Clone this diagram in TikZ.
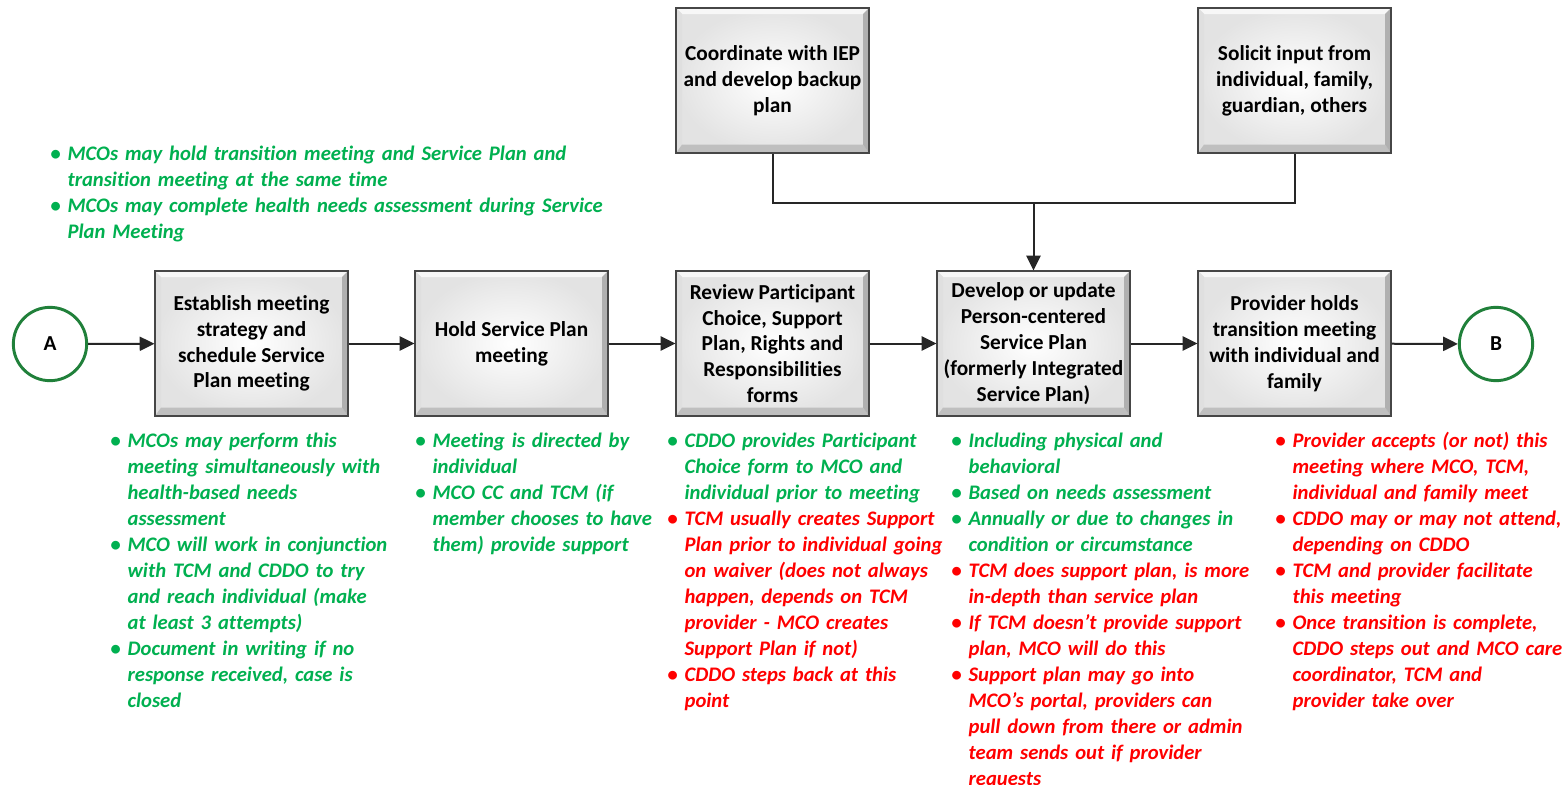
\documentclass[tikz,border=0pt]{standalone}
\usepackage{fontspec}
\setmainfont{Carlito}[Ligatures=NoCommon]
\usetikzlibrary{arrows.meta,calc}
\hyphenpenalty=10000

\definecolor{ngreen}{RGB}{0,176,80}
\definecolor{nred}{RGB}{255,0,0}
\definecolor{cgreen}{RGB}{32,128,58}
\definecolor{linegray}{RGB}{38,38,38}

% one bullet item with a hanging indent; \newline breaks a line inside it
\newcommand\bul[2]{\par\noindent\hangindent=13pt\hangafter=1%
  \makebox[13pt][l]{\color{#1}\textbullet}{\color{#1}#2}\par}

\tikzset{
  stepbox/.style={draw=gray!55!black, line width=0.9pt,
    minimum width=144.75pt, minimum height=108.75pt, inner sep=0pt,
    align=center, font=\bfseries\fontsize{16}{19.4}\selectfont,
    path picture={
      \def\bw{4.5pt}
      \path (path picture bounding box.south west) coordinate (pSW)
            (path picture bounding box.north east) coordinate (pNE)
            (pSW|-pNE) coordinate (pNW)
            (pNE|-pSW) coordinate (pSE);
      \shade[inner color=white, outer color=gray!22] (pSW) rectangle (pNE);
      % bevel strips
      \fill[gray!6] (pNW) -- (pNE) -- ($(pNE)+(-\bw,-\bw)$) -- ($(pNW)+(\bw,-\bw)$) -- cycle;
      \fill[gray!25] (pNW) -- (pSW) -- ($(pSW)+(\bw,1.4*\bw)$) -- ($(pNW)+(\bw,-\bw)$) -- cycle;
      \fill[gray!50] (pSW) -- (pSE) -- ($(pSE)+(-\bw,1.4*\bw)$) -- ($(pSW)+(\bw,1.4*\bw)$) -- cycle;
      \fill[gray!62] (pSE) -- (pNE) -- ($(pNE)+(-\bw,-\bw)$) -- ($(pSE)+(-\bw,1.4*\bw)$) -- cycle;
    }},
  endpoint/.style={circle, draw=cgreen, line width=2.2pt, fill=white,
    minimum size=55pt, inner sep=0pt, font=\bfseries\fontsize{16}{19.4}\selectfont},
  flow/.style={draw=linegray, line width=1.5pt,
    -{Triangle[length=11pt,width=10.5pt]}},
  link/.style={draw=linegray, line width=1.5pt},
  notes/.style={anchor=base west, inner sep=0pt, text width=520pt, align=left,
    font=\bfseries\itshape\fontsize{15.5}{19.5}\selectfont}
}

\begin{document}
\begin{tikzpicture}[x=0.75pt, y=-0.75pt]
  \fill[white] (0,0) rectangle (1568,785);
  \useasboundingbox (0,0) rectangle (1568,785);

  % main row
  \node[endpoint] (A) at (50,344) {A};
  \node[stepbox] (b1) at (251.5,343.5) {Establish meeting\\strategy and\\schedule Service\\Plan meeting};
  \node[stepbox] (b2) at (511.5,343.5) {Hold Service Plan\\meeting};
  \node[stepbox] (b3) at (772.5,343.5) {Review Participant\\Choice, Support\\Plan, Rights and\\Responsibilities\\forms};
  \node[stepbox] (b4) at (1033.5,343.5) {Develop or update\\Person-centered\\Service Plan\\(formerly Integrated\\Service Plan)};
  \node[stepbox] (b5) at (1294.5,343.5) {Provider holds\\transition meeting\\with individual and\\family};
  \node[endpoint] (B) at (1496,344) {B};

  % inputs on top
  \node[stepbox] (t1) at (772.5,80.5) {Coordinate with IEP\\and develop backup\\plan};
  \node[stepbox] (t2) at (1294.5,80.5) {Solicit input from\\individual, family,\\guardian, others};
  \coordinate (J) at (1033.5,203);

  % connectors
  \draw[flow] (A) -- (b1);
  \draw[flow] (b1) -- (b2);
  \draw[flow] (b2) -- (b3);
  \draw[flow] (b3) -- (b4);
  \draw[flow] (b4) -- (b5);
  \draw[flow] (b5) -- (B);
  \draw[link] (t1.south) |- (J) -| (t2.south);
  \draw[flow] (J) -- (b4.north);

  % notes
  \node[notes] (n0) at (50,134) {%
    \bul{ngreen}{MCOs may hold transition meeting and Service Plan and\newline transition meeting at the same time}%
    \bul{ngreen}{MCOs may complete health needs assessment during Service\newline Plan Meeting}};

  \node[notes] (n1) at (110,421) {%
    \bul{ngreen}{MCOs may perform this\newline meeting simultaneously with\newline health-based needs\newline assessment}%
    \bul{ngreen}{MCO will work in conjunction\newline with TCM and CDDO to try\newline and reach individual (make\newline at least 3 attempts)}%
    \bul{ngreen}{Document in writing if no\newline response received, case is\newline closed}};

  \node[notes] (n2) at (415,421) {%
    \bul{ngreen}{Meeting is directed by\newline individual}%
    \bul{ngreen}{MCO CC and TCM (if\newline member chooses to have\newline them) provide support}};

  \node[notes] (n3) at (667,421) {%
    \bul{ngreen}{CDDO provides Participant\newline Choice form to MCO and\newline individual prior to meeting}%
    \bul{nred}{TCM usually creates Support\newline Plan prior to individual going\newline on waiver (does not always\newline happen, depends on TCM\newline provider - MCO creates\newline Support Plan if not)}%
    \bul{nred}{CDDO steps back at this\newline point}};

  \node[notes] (n4) at (951,421) {%
    \bul{ngreen}{Including physical and\newline behavioral}%
    \bul{ngreen}{Based on needs assessment}%
    \bul{ngreen}{Annually or due to changes in\newline condition or circumstance}%
    \bul{nred}{TCM does support plan, is more\newline in-depth than service plan}%
    \bul{nred}{If TCM doesn’t provide support\newline plan, MCO will do this}%
    \bul{nred}{Support plan may go into\newline MCO’s portal, providers can\newline pull down from there or admin\newline team sends out if provider\newline requests}};

  \node[notes] (n5) at (1275,421) {%
    \bul{nred}{Provider accepts (or not) this\newline meeting where MCO, TCM,\newline individual and family meet}%
    \bul{nred}{CDDO may or may not attend,\newline depending on CDDO}%
    \bul{nred}{TCM and provider facilitate\newline this meeting}%
    \bul{nred}{Once transition is complete,\newline CDDO steps out and MCO care\newline coordinator, TCM and\newline provider take over}};
\end{tikzpicture}
\end{document}
